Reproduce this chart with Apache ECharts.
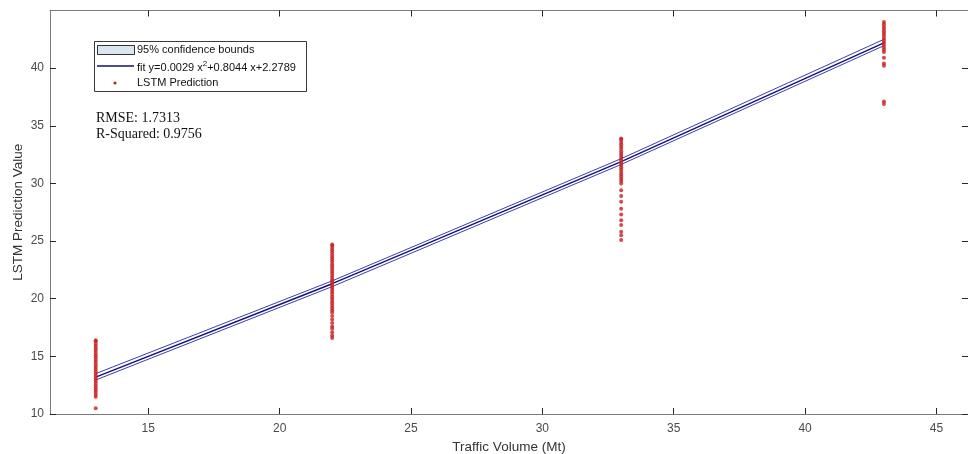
<!DOCTYPE html>
<html>
<head>
<meta charset="utf-8">
<script src="https://cdn.jsdelivr.net/npm/echarts@6/dist/echarts.min.js"></script>
<style>
  html, body { margin: 0; padding: 0; background: #fff; }
  #chart { width: 968px; height: 454px; }
</style>
</head>
<body>
<div id="chart"></div>
<script>
// tick labels
var xTicks = [15, 20, 25, 30, 35, 40, 45];
var yTicks = [10, 15, 20, 25, 30, 35, 40];

// traffic volume groups
var groupX = [13, 22, 33, 43];

// LSTM predictions read per group
var pred13 = [10.5, 11.5, 11.7, 11.9, 12.1, 12.3, 12.5, 12.7, 12.9, 13.1, 13.3, 13.5, 13.7, 13.9,
  14.1, 14.3, 14.5, 14.7, 14.9, 15.1, 15.3, 15.5, 15.7, 15.9, 16.1, 16.3, 16.4];
var pred22 = [16.6, 16.8, 17.1, 17.4, 17.6, 17.9, 18.2, 18.5, 18.8, 19.0, 19.2, 19.4, 19.6, 19.8,
  20.0, 20.2, 20.4, 20.6, 20.8, 21.0, 21.2, 21.4, 21.6, 21.8, 22.0, 22.2, 22.4, 22.6, 22.8,
  23.0, 23.2, 23.4, 23.6, 23.8, 24.0, 24.2, 24.4, 24.6, 24.7];
var pred33 = [25.1, 25.5, 25.8, 26.4, 26.8, 27.3, 27.8, 28.4, 28.9, 29.4, 30.0, 30.2, 30.4, 30.6,
  30.8, 31.0, 31.2, 31.4, 31.6, 31.8, 32.0, 32.2, 32.4, 32.6, 32.8, 33.0, 33.2, 33.4, 33.6, 33.8, 33.9];
var pred43 = [36.9, 37.1, 40.2, 40.4, 40.9, 41.4, 41.6, 41.8, 42.0, 42.2, 42.4, 42.6, 42.8, 43.0,
  43.2, 43.4, 43.6, 43.8, 44.0];

// fitted curve and 95% bounds at the group positions
var fitY = [13.2, 21.3, 31.9, 42.2];
var upperY = [13.5, 21.55, 32.15, 42.5];
var lowerY = [12.95, 21.05, 31.65, 41.95];

var myChart = echarts.init(document.getElementById('chart'));

function pairs(xs, ys) {
  return ys.map(function (y, i) { return [xs[i], y]; });
}
function column(x, ys) {
  return ys.map(function (y) { return [x, y]; });
}

var scatterData = []
  .concat(column(groupX[0], pred13))
  .concat(column(groupX[1], pred22))
  .concat(column(groupX[2], pred33))
  .concat(column(groupX[3], pred43));

var axisBase = {
  type: 'value',
  axisLine: { show: true, lineStyle: { color: '#7a7a7a', width: 1 } },
  splitLine: { show: false }
};
var tickStyle = function (vals) {
  return { show: true, inside: true, length: 6, lineStyle: { color: '#262626' }, customValues: vals };
};

var option = {
  animation: false,
  backgroundColor: '#fff',
  grid: { left: 50, right: 0, top: 10.5, bottom: 40, outerBoundsMode: 'none', containLabel: false },
  xAxis: [
    Object.assign({}, axisBase, {
      position: 'bottom', min: 11.26, max: 46.2,
      axisTick: tickStyle(xTicks),
      axisLabel: { customValues: xTicks, color: '#4a4a4a', fontSize: 12, fontFamily: 'Liberation Sans, Arial', margin: 9 },
      name: 'Traffic Volume (Mt)', nameLocation: 'middle', nameGap: 26,
      nameTextStyle: { color: '#333', fontSize: 13.5, fontFamily: 'Liberation Sans, Arial' }
    }),
    Object.assign({}, axisBase, {
      position: 'top', min: 11.26, max: 46.2,
      axisTick: tickStyle(xTicks),
      axisLabel: { show: false }
    })
  ],
  yAxis: [
    Object.assign({}, axisBase, {
      position: 'left', min: 10, max: 45,
      axisTick: tickStyle(yTicks),
      axisLabel: { customValues: yTicks, color: '#4a4a4a', fontSize: 12, fontFamily: 'Liberation Sans, Arial', margin: 6 },
      name: 'LSTM Prediction Value', nameLocation: 'middle', nameGap: 25, nameMoveOverlap: false,
      nameTextStyle: { color: '#333', fontSize: 13.5, fontFamily: 'Liberation Sans, Arial' }
    }),
    Object.assign({}, axisBase, {
      position: 'right', min: 10, max: 45,
      axisTick: tickStyle(yTicks),
      axisLabel: { show: false }
    })
  ],
  series: [
    {
      name: 'lower', type: 'line', data: pairs(groupX, lowerY), symbol: 'none',
      lineStyle: { color: '#3c3cb4', width: 1 }, z: 3
    },
    {
      name: 'upper', type: 'line', data: pairs(groupX, upperY), symbol: 'none',
      lineStyle: { color: '#3c3cb4', width: 1 }, z: 3
    },
    {
      name: 'fit', type: 'line', data: pairs(groupX, fitY), symbol: 'none',
      lineStyle: { color: '#12127a', width: 1.4 }, z: 4
    },
    {
      name: 'LSTM Prediction', type: 'scatter', data: scatterData,
      symbol: 'circle', symbolSize: 4,
      itemStyle: { color: '#c81e1e' }, z: 5
    }
  ],
  graphic: [
    { type: 'rect', shape: { x: 94.5, y: 41.5, width: 212, height: 50 },
      style: { fill: '#fff', stroke: '#3a3a3a', lineWidth: 1 } },
    { type: 'rect', shape: { x: 97.5, y: 45.5, width: 37, height: 9 },
      style: { fill: '#dbe6f5', stroke: '#333', lineWidth: 1 } },
    { type: 'text', x: 137, y: 50,
      style: { text: '95% confidence bounds', fill: '#111', font: '11px "Liberation Sans", Arial', verticalAlign: 'middle' } },
    { type: 'line', shape: { x1: 97, y1: 66, x2: 134, y2: 66 },
      style: { stroke: '#10106e', lineWidth: 1.3 } },
    { type: 'text', x: 137, y: 68,
      style: {
        text: '{a|fit y=0.0029 x}{s|2}{a|+0.8044 x+2.2789}',
        verticalAlign: 'middle',
        rich: {
          a: { fill: '#111', fontSize: 11, fontFamily: 'Liberation Sans, Arial' },
          s: { fill: '#111', fontSize: 8, fontFamily: 'Liberation Sans, Arial', verticalAlign: 'top', padding: [0, 0, 8, 0] }
        }
      } },
    { type: 'circle', shape: { cx: 115, cy: 83, r: 1.6 }, style: { fill: '#c81e1e' } },
    { type: 'text', x: 137, y: 83,
      style: { text: 'LSTM Prediction', fill: '#111', font: '11px "Liberation Sans", Arial', verticalAlign: 'middle' } },
    { type: 'text', x: 96, y: 111,
      style: { text: 'RMSE: 1.7313', fill: '#111', font: '14px "Liberation Serif", "Times New Roman"' } },
    { type: 'text', x: 96, y: 127,
      style: { text: 'R-Squared: 0.9756', fill: '#111', font: '14px "Liberation Serif", "Times New Roman"' } }
  ]
};

myChart.setOption(option);
window.addEventListener('resize', function () { myChart.resize(); });
</script>
</body>
</html>
